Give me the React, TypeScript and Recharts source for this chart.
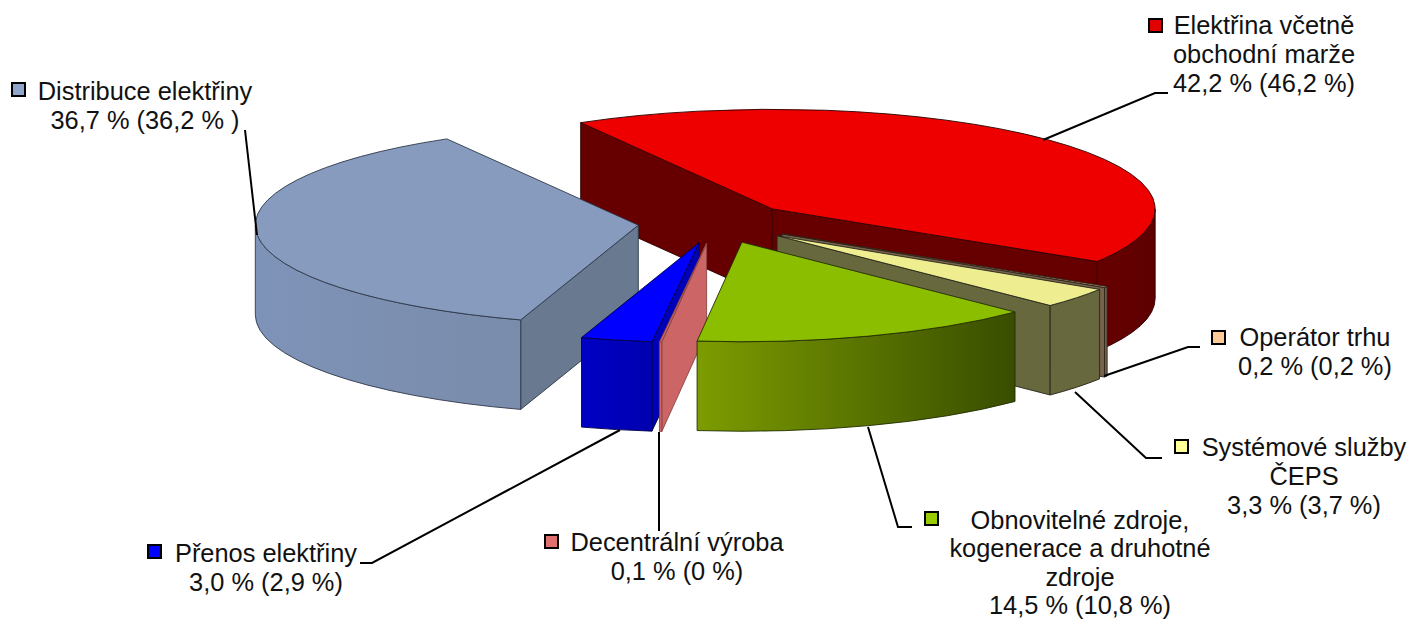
import React from 'react';
import { PieChart, Pie } from 'recharts';

// Values, % of the final price (previous year in brackets)
const CATEGORIES = [
  'Elektřina včetně obchodní marže',
  'Operátor trhu',
  'Systémové služby ČEPS',
  'Obnovitelné zdroje, kogenerace a druhotné zdroje',
  'Decentrální výroba',
  'Přenos elektřiny',
  'Distribuce elektřiny',
];
const SHARES = [42.2, 0.2, 3.3, 14.5, 0.1, 3.0, 36.7];
const LABEL_LINES = [
  ['Elektřina včetně', 'obchodní marže', '42,2 % (46,2 %)'],
  ['Operátor trhu', '0,2 % (0,2 %)'],
  ['Systémové služby', 'ČEPS', '3,3 % (3,7 %)'],
  ['Obnovitelné zdroje,', 'kogenerace a druhotné', 'zdroje', '14,5 % (10,8 %)'],
  ['Decentrální výroba', '0,1 % (0 %)'],
  ['Přenos elektřiny', '3,0 % (2,9 %)'],
  ['Distribuce elektřiny', '36,7 % (36,2 % )'],
];

const chartData = CATEGORIES.map((name, i) => ({ name, value: SHARES[i] }));

// top, legend marker, radial face, wall gradient start/end, edge colour
const PALETTE = [
  { top: '#EE0000', marker: '#E00000', face: '#660000', wallA: '#660000', wallB: '#5E0000', edge: '#2a0000' },
  { top: '#C4A888', marker: '#FFCC99', face: '#77624C', wallA: '#77624C', wallB: '#77624C', edge: '#2a2418' },
  { top: '#EEEE90', marker: '#FFFF99', face: '#68683F', wallA: '#68683F', wallB: '#68683F', edge: '#26261a' },
  { top: '#8CBE00', marker: '#99CC00', face: '#6B8A00', wallA: '#7C9C00', wallB: '#394D00', edge: '#222e00' },
  { top: '#CC6666', marker: '#E07070', face: '#CC6666', wallA: '#CC6666', wallB: '#CC6666', edge: '#8a4444' },
  { top: '#0000FF', marker: '#0000FF', face: '#0000B8', wallA: '#0000C4', wallB: '#0000B0', edge: '#00004a' },
  { top: '#869BBE', marker: '#8FA5CC', face: '#69798F', wallA: '#7E93B8', wallB: '#7A8CAB', edge: '#2e3848' },
];

// label placement: text centre, first baseline, line step, marker corner, leader polyline
const LABEL_LAYOUT = [
  { x: 1264, y: 34, step: 29.2, mx: 1149, my: 19, leader: '1043,140 1155,93 1168,93' },
  { x: 1315, y: 346, step: 29.2, mx: 1212, my: 331, leader: '1104,376 1188,347 1200,347' },
  { x: 1304, y: 456, step: 29.2, mx: 1175, my: 440, leader: '1075,392 1146,458 1162,458' },
  { x: 1080, y: 529, step: 28.3, mx: 925, my: 512, leader: '868,427 898,527 912,527' },
  { x: 677, y: 551, step: 29.2, mx: 545, my: 535, leader: '659,432 659,531' },
  { x: 266, y: 562, step: 29.2, mx: 148, my: 545, leader: '620,430 372,563 360,563' },
  { x: 145, y: 100, step: 29.2, mx: 12, my: 83, leader: '245,130 257,235' },
];

const TILT = 0.26; // ellipse ry / rx
const EXPLODE = 0.204;
const DEPTH = 89.5;

// paint order, back to front, each group is one Pie
const PAINT_LAYERS = [
  [CATEGORIES[0], CATEGORIES[6]],
  [CATEGORIES[5]],
  [CATEGORIES[4]],
  [CATEGORIES[1], CATEGORIES[2], CATEGORIES[3]],
];

const rad = (deg: number) => (deg * Math.PI) / 180;

const Slice3D = (props: any) => {
  const { cx, cy, outerRadius, startAngle, endAngle, name, layer } = props;
  if (!PAINT_LAYERS[layer].includes(name)) return null;

  const i = CATEGORIES.indexOf(name);
  const c = PALETTE[i];
  const rx = outerRadius;
  const ry = outerRadius * TILT;
  const mid = rad((startAngle + endAngle) / 2);
  const ax = cx + EXPLODE * rx * Math.cos(mid);
  const ay = cy - EXPLODE * ry * Math.sin(mid);
  const pt = (a: number) => [ax + rx * Math.cos(rad(a)), ay - ry * Math.sin(rad(a))];

  const [sx, sy] = pt(startAngle);
  const [ex, ey] = pt(endAngle);
  const large = startAngle - endAngle > 180 ? 1 : 0;
  const top = `M${ax},${ay} L${sx},${sy} A${rx},${ry} 0 ${large} 1 ${ex},${ey} Z`;

  const quad = (x: number, y: number) =>
    `M${ax},${ay} L${x},${y} L${x},${y + DEPTH} L${ax},${ay + DEPTH} Z`;

  // the outer wall only shows on the lower half of the ellipse
  const hi = Math.min(startAngle, 0);
  const lo = Math.max(endAngle, -180);
  let wall = '';
  if (hi > lo) {
    const [hx, hy] = pt(hi);
    const [lx, ly] = pt(lo);
    wall = `M${hx},${hy} A${rx},${ry} 0 0 1 ${lx},${ly} L${lx},${ly + DEPTH} A${rx},${ry} 0 0 0 ${hx},${hy + DEPTH} Z`;
  }

  const edge = { stroke: c.edge, strokeWidth: 0.9, strokeLinejoin: 'round' as const };
  return (
    <g>
      <defs>
        <linearGradient id={`wall-${i}`} x1="0" y1="0" x2="1" y2="0">
          <stop offset="0%" stopColor={c.wallA} />
          <stop offset="100%" stopColor={c.wallB} />
        </linearGradient>
      </defs>
      {sx < ax && <path d={quad(sx, sy)} fill={c.face} {...edge} />}
      {ex > ax && <path d={quad(ex, ey)} fill={c.face} {...edge} />}
      {wall && <path d={wall} fill={`url(#wall-${i})`} {...edge} />}
      <path d={top} fill={c.top} {...edge} />
    </g>
  );
};

const SliceLabel = (props: any) => {
  const i = CATEGORIES.indexOf(props.name);
  const l = LABEL_LAYOUT[i];
  return (
    <g>
      <polyline points={l.leader} fill="none" stroke="#000" strokeWidth={2} />
      <rect x={l.mx} y={l.my} width={13} height={13} fill={PALETTE[i].marker} stroke="#000" strokeWidth={2} />
      <text x={l.x} y={l.y} textAnchor="middle" fontFamily="'Liberation Sans', Arial, sans-serif" fontSize={25.4} fill="#111">
        {LABEL_LINES[i].map((line, n) => (
          <tspan key={n} x={l.x} dy={n === 0 ? 0 : l.step}>
            {line}
          </tspan>
        ))}
      </text>
    </g>
  );
};

const pieProps = {
  data: chartData,
  dataKey: 'value',
  nameKey: 'name',
  cx: 716,
  cy: 223,
  outerRadius: 383,
  startAngle: 120,
  endAngle: -240,
  stroke: 'none',
  isAnimationActive: false,
};

export default function App() {
  return (
    <div style={{ position: 'absolute', left: 0, top: 0, width: 1408, height: 619, background: '#fff' }}>
      <PieChart width={1408} height={619} margin={{ top: 0, right: 0, bottom: 0, left: 0 }}>
        {PAINT_LAYERS.map((_, layer) => (
          <Pie key={layer} {...pieProps} shape={(p: any) => <Slice3D {...p} layer={layer} />} />
        ))}
        <Pie
          {...pieProps}
          fill="none"
          shape={() => <g />}
          label={(p: any) => <SliceLabel {...p} />}
          labelLine={false}
        />
      </PieChart>
    </div>
  );
}
